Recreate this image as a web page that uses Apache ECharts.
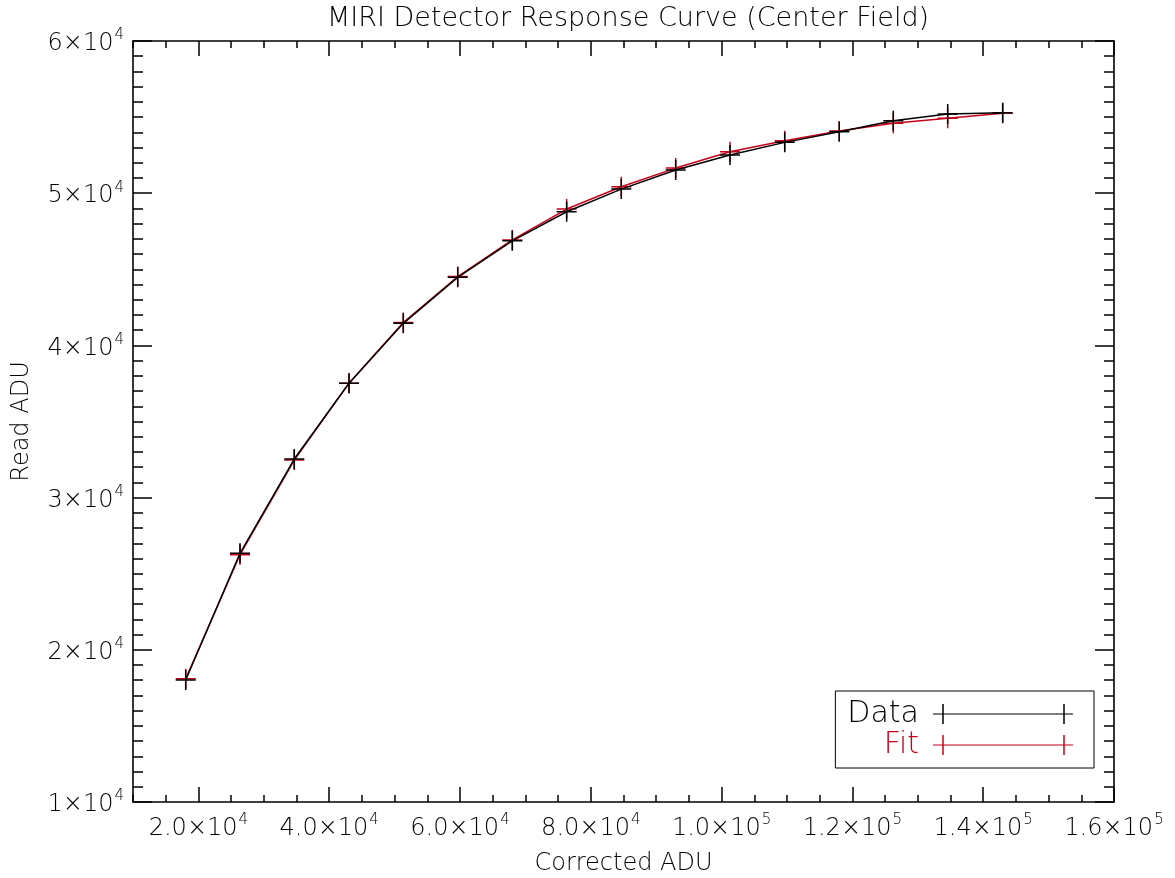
<!DOCTYPE html>
<html>
<head>
<meta charset="utf-8">
<script src="https://cdn.jsdelivr.net/npm/echarts@6/dist/echarts.min.js"></script>
<style>
html,body{margin:0;padding:0;background:#fff;}
#c{width:1175px;height:878px;}
</style>
</head>
<body>
<div id="c"></div>
<script>
// ---- data ----
const correctedADU = [18060, 26360, 34660, 43030, 51330, 59650, 68000, 76310, 84660, 92980, 101280, 109650, 117990, 126250, 134570, 142980];
const dataReadADU = [18015, 26340, 32535, 37510, 41450, 44470, 46870, 48780, 50270, 51520, 52510, 53340, 54040, 54760, 55200, 55290];
const fitReadADU  = [18100, 26250, 32470, 37520, 41500, 44520, 46930, 48960, 50420, 51650, 52720, 53450, 54090, 54590, 54920, 55250];

const xTickValues = [20000, 40000, 60000, 80000, 100000, 120000, 140000, 160000];
const xTickLabels = [['2.0','4'],['4.0','4'],['6.0','4'],['8.0','4'],['1.0','5'],['1.2','5'],['1.4','5'],['1.6','5']];
const yTickValues = [10000, 20000, 30000, 40000, 50000, 60000];
const yTickLabels = [['1','4'],['2','4'],['3','4'],['4','4'],['5','4'],['6','4']];

const seriesNames = ['Data', 'Fit'];
const titleText = 'MIRI Detector Response Curve (Center Field)';
const xName = 'Corrected ADU';
const yName = 'Read ADU';

// ---- styling ----
const FONT = 'DejaVu Sans';
const RED = '#c8001a';
const BLACK = '#000000';
const plusPath = 'path://M0,9.25H20V10.75H0Z M9.25,0H10.75V20H9.25Z';
const legendPath = 'path://M0,9.4H140V10.6H0Z M9.25,0H10.75V20H9.25Z M130.25,0H131.75V20H130.25Z';

function sciLabel(values, labels) {
  return function (v) {
    const i = values.indexOf(v);
    if (i < 0) return '';
    return '{m|' + labels[i][0] + '×10}{e|' + labels[i][1] + '}';
  };
}
const rich = {
  m: {fontFamily: FONT, fontWeight: 200, fontSize: 24, color: BLACK, lineHeight: 30, verticalAlign: 'bottom'},
  e: {fontFamily: FONT, fontWeight: 200, fontSize: 15, color: BLACK, lineHeight: 30, verticalAlign: 'top', padding: [2, 0, 0, 1]}
};
const axisLine = {show: true, lineStyle: {color: BLACK, width: 1.6}};
const X_MIN = 10000, X_MAX = 160000, Y_MIN = 10000, Y_MAX = 60000;

function xMinorAxis(pos) {
  return {
    type: 'value', position: pos, min: X_MIN, max: X_MAX, interval: 5000,
    axisLine: axisLine,
    axisTick: {show: true, inside: true, length: 7, lineStyle: {color: BLACK, width: 1.5}},
    axisLabel: pos === 'bottom'
      ? {show: true, formatter: sciLabel(xTickValues, xTickLabels), rich: rich, margin: 9, showMinLabel: true, showMaxLabel: true}
      : {show: false},
    splitLine: {show: false},
    name: pos === 'bottom' ? xName : '',
    nameLocation: 'middle', nameGap: 50,
    nameTextStyle: {fontFamily: FONT, fontWeight: 200, fontSize: 24, color: BLACK}
  };
}
function xMajorAxis(pos) {
  return {
    type: 'value', position: pos, min: X_MIN, max: X_MAX,
    axisLine: {show: false},
    axisTick: {show: true, inside: true, length: 15, customValues: xTickValues, lineStyle: {color: BLACK, width: 1.5}},
    axisLabel: {show: false},
    splitLine: {show: false}
  };
}
function yAxisDef(pos) {
  return {
    type: 'value', position: pos, min: Y_MIN, max: Y_MAX, interval: 10000,
    axisLine: axisLine,
    axisTick: {show: true, inside: true, length: 19, lineStyle: {color: BLACK, width: 1.5}},
    minorTick: {show: true, splitNumber: 10, length: 10, lineStyle: {color: BLACK, width: 1.5}},
    axisLabel: pos === 'left'
      ? {show: true, formatter: sciLabel(yTickValues, yTickLabels), rich: rich, margin: 9}
      : {show: false},
    splitLine: {show: false},
    minorSplitLine: {show: false},
    name: pos === 'left' ? yName : '',
    nameLocation: 'middle', nameGap: 99, nameRotate: 90,
    nameTextStyle: {fontFamily: FONT, fontWeight: 200, fontSize: 24, color: BLACK}
  };
}

const chart = echarts.init(document.getElementById('c'), null, {renderer: 'canvas'});
chart.setOption({
  animation: false,
  backgroundColor: '#ffffff',
  title: {
    text: titleText, left: 623, top: 0, textAlign: 'center',
    textStyle: {fontFamily: FONT, fontWeight: 200, fontSize: 27, color: BLACK}
  },
  grid: {left: 133, right: 61, top: 41, bottom: 76, containLabel: false, outerBoundsMode: 'none'},
  legend: {
    right: 81, top: 691, orient: 'vertical', align: 'right',
    padding: [8, 21, 8, 12], itemGap: 1, itemWidth: 140, itemHeight: 20,
    borderColor: BLACK, borderWidth: 1, backgroundColor: '#fff',
    icon: legendPath,
    data: [
      {name: seriesNames[0], textStyle: {color: BLACK}},
      {name: seriesNames[1], textStyle: {color: RED}}
    ],
    textStyle: {fontFamily: FONT, fontWeight: 200, fontSize: 30, lineHeight: 20, padding: [0, 9, 0, 0]}
  },
  xAxis: [xMinorAxis('bottom'), xMajorAxis('bottom'), xMinorAxis('top'), xMajorAxis('top')],
  yAxis: [yAxisDef('left'), yAxisDef('right')],
  series: [
    {
      name: seriesNames[1], type: 'line', xAxisIndex: 0, yAxisIndex: 0, z: 2,
      data: correctedADU.map((x, i) => [x, fitReadADU[i]]),
      symbol: plusPath, symbolSize: 20, showSymbol: true,
      itemStyle: {color: RED}, lineStyle: {color: RED, width: 1.5}
    },
    {
      name: seriesNames[0], type: 'line', xAxisIndex: 0, yAxisIndex: 0, z: 3,
      data: correctedADU.map((x, i) => [x, dataReadADU[i]]),
      symbol: plusPath, symbolSize: 20, showSymbol: true,
      itemStyle: {color: BLACK}, lineStyle: {color: BLACK, width: 1.5}
    }
  ]
});
</script>
</body>
</html>
